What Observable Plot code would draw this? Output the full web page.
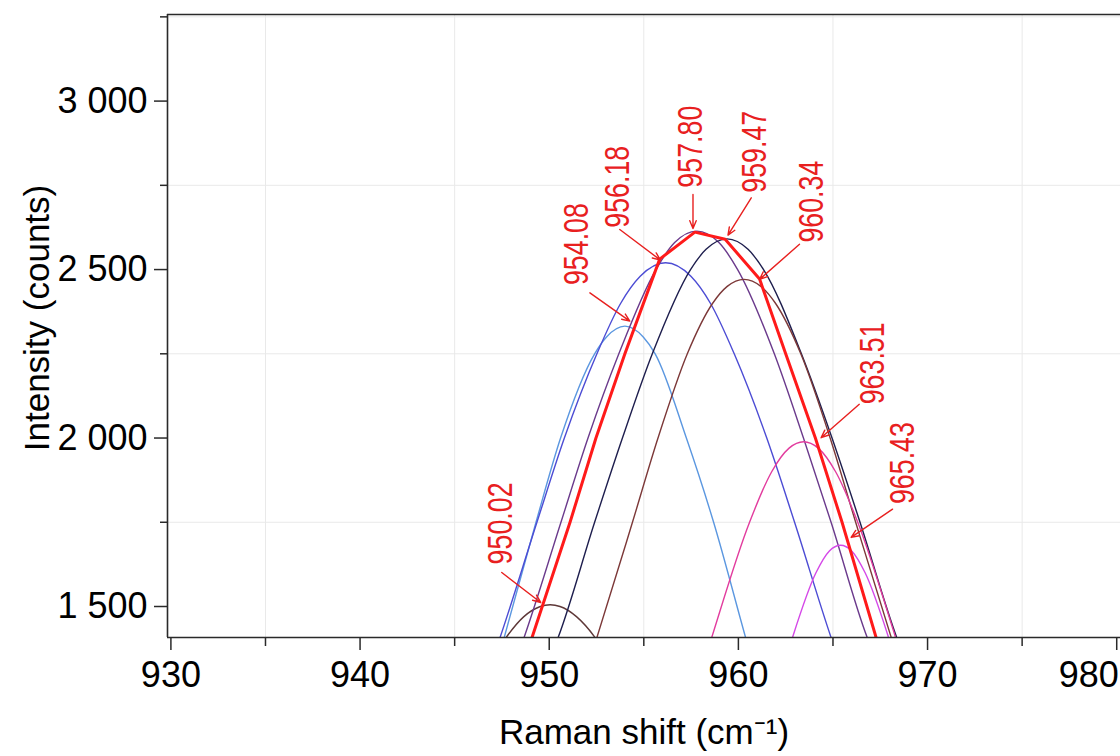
<!DOCTYPE html>
<html>
<head>
<meta charset="utf-8">
<script src="https://cdn.jsdelivr.net/npm/d3@7"></script>
<script src="https://cdn.jsdelivr.net/npm/@observablehq/plot@0.6"></script>
<style>
  html, body { margin: 0; padding: 0; background: #ffffff; }
  #chart { width: 1120px; height: 756px; }
</style>
</head>
<body>
<div id="chart"></div>
<script>
// ---------- data ----------
const xMajorTicks = [930, 940, 950, 960, 970, 980];
const xMinorTicks = [935, 945, 955, 965, 975];
const yMajorTicks = [1500, 2000, 2500, 3000];
const yMinorTicks = [1750, 2250, 2750, 3250];

const xTitle = "Raman shift (cm\u207B\u00B9)";
const yTitle = "Intensity (counts)";

// fitted component bands (Raman shift, intensity)
const band950x = [946.55, 947.72, 948.66, 949.53, 950.05, 950.57, 951.44, 952.42, 953.55];
const band950y = [1300, 1408, 1470, 1500, 1505, 1500, 1470, 1408, 1300];

const band954x = [947.08, 947.62, 949.3, 950.6, 952.4, 953.03, 954.0, 954.97, 955.6, 957.25, 958.69, 960.38, 960.92];
const band954y = [1300, 1408, 1750, 2000, 2250, 2300, 2332, 2300, 2250, 2000, 1750, 1408, 1300];

const band956x = [946.73, 947.40, 949.35, 950.8, 952.52, 953.78, 954.81, 956.15, 957.49, 958.52, 959.78, 961.5, 962.97, 964.9, 965.57];
const band956y = [1300, 1408, 1750, 2000, 2250, 2400, 2480, 2520, 2480, 2400, 2250, 2000, 1750, 1408, 1300];

const band957x = [947.98, 948.67, 950.62, 952.05, 953.68, 955.64, 956.63, 957.8, 958.97, 959.96, 961.9, 963.44, 964.9, 966.81, 967.62];
const band957y = [1300, 1408, 1750, 2000, 2250, 2500, 2580, 2614, 2580, 2500, 2250, 2000, 1750, 1408, 1300];

const band959x = [949.68, 950.47, 952.4, 953.87, 955.45, 957.47, 958.29, 959.4, 960.51, 961.33, 963.33, 964.95, 966.43, 968.37, 969.12];
const band959y = [1300, 1408, 1750, 2000, 2250, 2500, 2560, 2591, 2560, 2500, 2250, 2000, 1750, 1408, 1300];

const band960x = [951.9, 952.52, 954.4, 955.75, 957.3, 958.64, 959.41, 960.3, 961.19, 961.96, 963.3, 964.85, 966.2, 968.08, 968.7];
const band960y = [1300, 1408, 1750, 2000, 2250, 2400, 2450, 2471, 2450, 2400, 2250, 2000, 1750, 1408, 1300];

const band963x = [957.99, 958.59, 960.59, 961.76, 962.68, 963.45, 964.22, 965.14, 966.31, 968.31, 968.91];
const band963y = [1300, 1408, 1750, 1900, 1970, 1989, 1970, 1900, 1750, 1408, 1300];

const band965x = [962.27, 962.86, 964.1, 964.81, 965.4, 965.99, 966.7, 967.94, 968.53];
const band965y = [1300, 1408, 1600, 1665, 1682, 1665, 1600, 1408, 1300];

// measured spectrum (thick red)
const spectrumX = [948.5, 949.09, 951.1, 952.47, 954.0, 955.84, 957.7, 959.3, 961.12, 962.5, 964.07, 965.48, 967.28, 967.9];
const spectrumY = [1300, 1408, 1750, 2000, 2250, 2531, 2611, 2590, 2472, 2250, 2000, 1750, 1408, 1300];

// peak annotations
const peakLabels = ["950.02", "954.08", "956.18", "957.80", "959.47", "960.34", "963.51", "965.43"];
const labelX = [947.44, 951.45, 953.6, 957.49, 960.89, 963.88, 967.09, 968.71];
const labelY = [1625, 2454, 2624, 2743, 2728, 2580, 2100, 1804];
const arrowX1 = [947.49, 952.15, 953.73, 957.6, 960.68, 963.23, 966.39, 968.15];
const arrowY1 = [1601, 2431, 2619, 2723, 2713, 2575, 2100, 1789];
const arrowX2 = [949.55, 954.26, 955.88, 957.6, 959.45, 961.12, 964.37, 965.96];
const arrowY2 = [1512, 2347, 2528, 2622, 2602, 2471, 2001, 1705];

// ---------- build tables ----------
const toPts = (xs, ys) => xs.map((x, i) => ({x, y: ys[i]}));
const bands = [
  {pts: toPts(band950x, band950y), color: "#5e3838"},
  {pts: toPts(band954x, band954y), color: "#5b97e0"},
  {pts: toPts(band956x, band956y), color: "#4c4cd4"},
  {pts: toPts(band957x, band957y), color: "#6b3a8c"},
  {pts: toPts(band959x, band959y), color: "#1e1e4e"},
  {pts: toPts(band960x, band960y), color: "#7c3838"},
  {pts: toPts(band963x, band963y), color: "#e23c9e"},
  {pts: toPts(band965x, band965y), color: "#d548e8"}
];
const spectrum = toPts(spectrumX, spectrumY);
const labels = peakLabels.map((t, i) => ({t, x: labelX[i], y: labelY[i]}));
const arrows = peakLabels.map((t, i) => ({x1: arrowX1[i], y1: arrowY1[i], x2: arrowX2[i], y2: arrowY2[i]}));

const fmtY = d => String(d).replace(/\B(?=(\d{3})+(?!\d))/g, " ");
const axisColor = "#2a2a2a";
const red = "#e8201f";

const chart = Plot.plot({
  width: 1120,
  height: 756,
  marginLeft: 167,
  marginRight: 0,
  marginTop: 14,
  marginBottom: 119,
  style: {fontFamily: "'Liberation Sans', Arial, sans-serif", fontSize: "36px", background: "#ffffff", color: "#000000", overflow: "visible"},
  x: {domain: [929.82, 980.2]},
  y: {domain: [1408, 3257]},
  marks: [
    Plot.gridX(xMinorTicks, {stroke: "#e9e9e9", strokeOpacity: 1, strokeWidth: 1}),
    Plot.gridY(yMinorTicks, {stroke: "#e9e9e9", strokeOpacity: 1, strokeWidth: 1}),
    ...bands.map(b => Plot.line(b.pts, {x: "x", y: "y", stroke: b.color, strokeWidth: 1.4, curve: "monotone-x", clip: true})),
    Plot.line(spectrum, {x: "x", y: "y", stroke: "#ff1a1a", strokeWidth: 3, clip: true}),
    Plot.arrow(arrows, {x1: "x1", y1: "y1", x2: "x2", y2: "y2", stroke: red, strokeWidth: 1.4, headLength: 9, headAngle: 45}),
    Plot.text(labels, {x: "x", y: "y", text: "t", rotate: -90, textAnchor: "start", lineAnchor: "middle", fill: red, fontSize: 35}),
    Plot.ruleY([1408], {stroke: axisColor, strokeWidth: 1.6}),
    Plot.ruleY([3257], {stroke: axisColor, strokeWidth: 1.6}),
    Plot.ruleX([929.82], {stroke: axisColor, strokeWidth: 1.6}),
    Plot.axisX(xMajorTicks, {tickSize: 13, tickPadding: 11, stroke: axisColor, strokeWidth: 1.5, tickFormat: d => String(d), label: null, fontSize: 36}),
    Plot.axisX(xMinorTicks, {tickSize: 9, stroke: axisColor, strokeWidth: 1.5, tickFormat: () => "", label: null}),
    Plot.axisY(yMajorTicks, {tickSize: 13, tickPadding: 7, stroke: axisColor, strokeWidth: 1.5, tickFormat: fmtY, label: null, fontSize: 36}),
    Plot.axisY(yMinorTicks, {tickSize: 7, stroke: axisColor, strokeWidth: 1.5, tickFormat: () => "", label: null}),
    Plot.text([xTitle], {frameAnchor: "bottom", textAnchor: "middle", dy: 106, fontSize: 35, fill: "#000"}),
    Plot.text([yTitle], {frameAnchor: "left", textAnchor: "middle", rotate: -90, dx: -130, dy: -8, fontSize: 35, fill: "#000"})
  ]
});

document.getElementById("chart").appendChild(chart);

// condensed look of the peak annotations; keep the last x tick label inside the picture
d3.select(chart).selectAll("text").each(function () {
  const t = this.textContent;
  if (peakLabels.includes(t)) {
    this.setAttribute("textLength", "82");
    this.setAttribute("lengthAdjust", "spacingAndGlyphs");
  }
  if (t === "980") {
    this.setAttribute("text-anchor", "end");
    this.setAttribute("dx", "2");
  }
});
</script>
</body>
</html>
